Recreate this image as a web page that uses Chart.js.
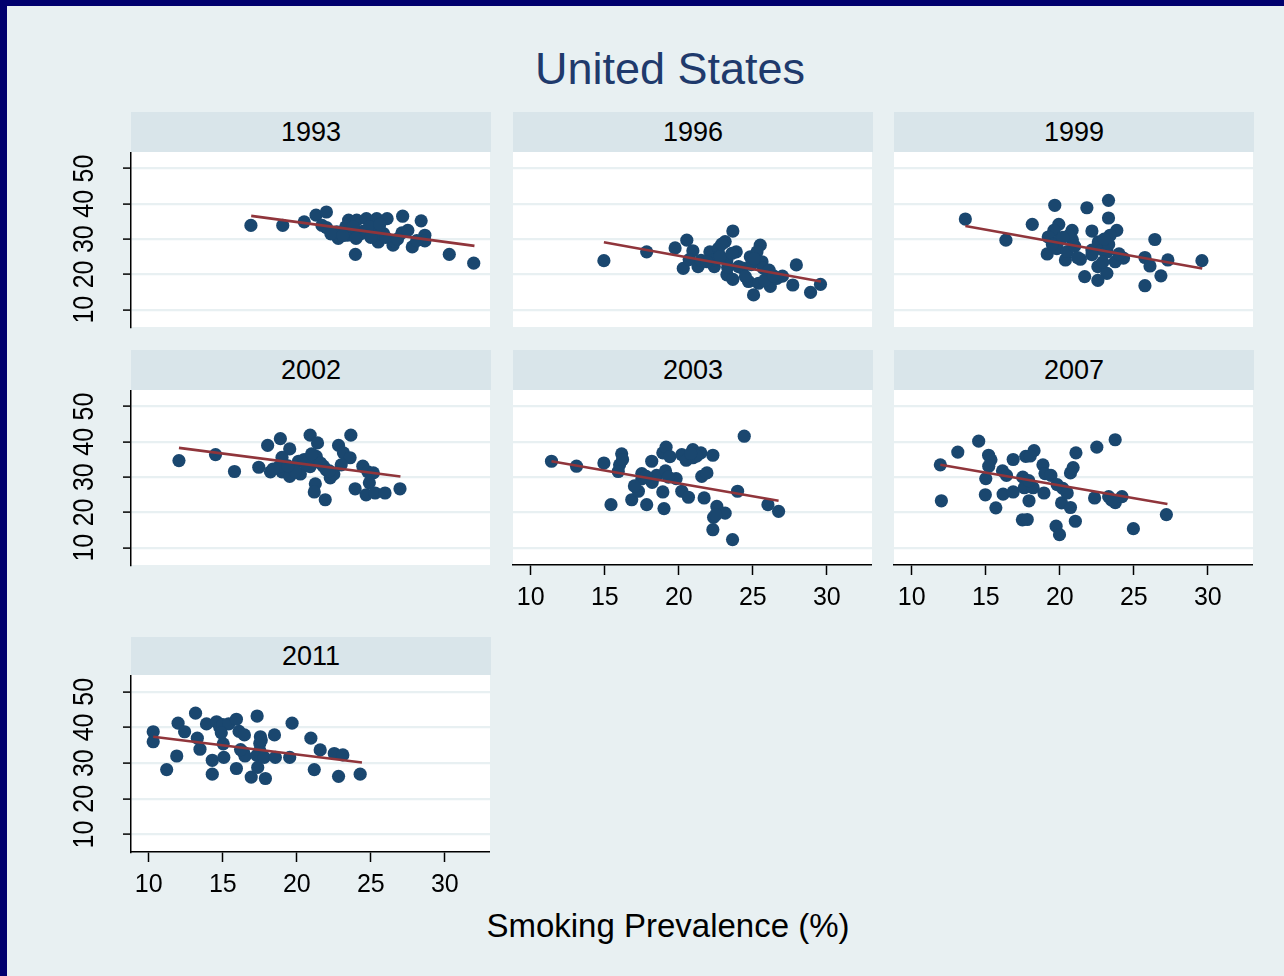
<!DOCTYPE html>
<html><head><meta charset="utf-8">
<script src="https://cdn.jsdelivr.net/npm/chart.js@4.4.0/dist/chart.umd.min.js"></script>
<style>
html,body{margin:0;padding:0;}
body{width:1284px;height:976px;position:relative;overflow:hidden;background:#e8f0f2;font-family:"Liberation Sans",Arial,sans-serif;}
#topbar{position:absolute;left:0;top:0;width:1284px;height:6px;background:#00006e;}
#leftbar{position:absolute;left:0;top:0;width:7px;height:976px;background:#00006e;}
.strip{position:absolute;background:#d9e5ea;color:#000;font-size:27px;display:flex;align-items:center;justify-content:center;}
canvas.panel{position:absolute;}
#title{position:absolute;left:370px;width:600px;top:46px;text-align:center;font-size:45px;line-height:1;color:#1f3a6c;}
#xtitle{position:absolute;left:368px;width:600px;top:909px;text-align:center;font-size:33px;line-height:1;color:#000;}
</style>
</head><body>
<div id="topbar"></div><div id="leftbar"></div>
<div id="title">United States</div>
<div id="xtitle">Smoking Prevalence (%)</div>
<script>
// ---- data ----
const years = ["1993","1996","1999","2002","2003","2007","2011"];
const xTicks = [10,15,20,25,30];
const yTicks = [10,20,30,40,50];

const pts1993 = [[16.9,33.9],[19.05,33.9],[20.5,34.9],[21.3,36.8],[22.0,37.7],[21.7,33.9],[22.0,33.3],[22.7,32.1],[22.8,30.2],[23.5,35.4],[24.05,35.4],[23.4,31.1],[23.5,32.3],[23.96,25.7],[24.7,35.8],[25.4,35.8],[26.1,35.8],[27.15,36.5],[28.4,35.2],[28.65,31.1],[28.65,29.5],[27.1,31.8],[25.85,31.6],[25.5,29.2],[26.5,28.3],[27.8,27.8],[26.6,29.4],[25.2,31.1],[24.5,32.3],[24.3,31.5],[30.3,25.7],[31.95,23.2],[24.9,33.5],[23.3,33.5],[23.8,33.4],[25.6,32.5],[26.0,30.5],[22.3,31.5],[23.1,31.0],[24.0,30.2],[25.0,30.5],[26.8,30.0],[28.1,29.6],[27.5,32.5],[25.6,34.2]];
const pts1996 = [[14.94,23.9],[17.83,26.4],[19.75,27.5],[20.54,29.7],[20.95,26.7],[20.3,21.7],[21.3,22.2],[22.1,26.4],[22.4,22.2],[22.68,27.4],[23.13,29.3],[23.65,32.3],[23.88,26.4],[23.25,24.1],[23.25,19.9],[23.65,18.6],[24.04,22.2],[24.83,25.0],[25.5,28.3],[25.28,26.4],[25.62,23.6],[24.71,18.0],[25.39,17.5],[25.05,14.2],[26.18,16.6],[25.8,18.4],[26.63,18.9],[27.7,17.0],[27.94,22.7],[28.9,14.9],[29.57,17.2],[20.7,24.2],[21.5,24.0],[22.3,24.0],[22.8,25.2],[23.3,22.0],[24.3,21.8],[24.9,22.8],[25.7,21.8],[26.1,21.2],[27.0,19.5],[21.9,23.6],[24.5,19.4],[22.9,28.6],[23.6,26.0],[25.1,24.5],[26.4,19.6]];
const pts1999 = [[13.62,35.7],[16.36,29.7],[18.14,34.2],[19.66,39.6],[21.83,38.9],[23.29,41.0],[23.29,36.0],[19.93,34.2],[19.6,32.5],[20.83,32.5],[22.17,32.3],[23.85,32.5],[23.4,31.1],[19.22,30.6],[20.0,29.7],[20.85,29.8],[19.15,25.8],[19.8,27.3],[20.38,24.1],[21.39,24.3],[22.17,26.9],[22.6,29.2],[22.9,27.0],[22.17,25.6],[22.57,22.2],[23.18,20.3],[22.57,18.3],[21.68,19.4],[23.2,26.4],[23.74,23.6],[24.3,24.6],[25.75,24.8],[26.09,22.4],[26.42,29.9],[27.3,24.1],[26.83,19.6],[25.75,16.8],[29.6,23.9],[20.6,31.0],[23.3,28.5],[20.5,26.5],[21.0,28.0],[19.5,28.5],[22.9,23.5],[24.0,25.8],[20.2,30.5],[23.0,30.0],[21.2,24.8]];
const pts2002 = [[12.04,34.7],[14.51,36.4],[15.79,31.6],[17.43,32.8],[18.03,39.0],[18.89,40.9],[19.52,38.0],[19.0,35.6],[18.22,31.5],[19.0,31.5],[19.52,30.2],[20.24,30.9],[20.12,34.5],[20.5,35.0],[20.9,41.9],[21.4,39.7],[21.31,35.9],[20.9,33.0],[21.8,33.1],[21.25,28.1],[21.18,25.8],[21.92,23.6],[22.26,29.8],[22.5,30.9],[22.82,39.0],[23.65,41.9],[23.15,36.9],[23.6,35.5],[23.0,33.5],[24.46,33.1],[24.8,31.5],[25.17,31.2],[24.9,28.4],[23.94,26.7],[24.68,25.0],[25.29,25.5],[25.96,25.5],[26.97,26.7],[19.9,31.5],[18.8,33.0],[21.6,34.0],[22.0,32.0],[19.4,33.2],[20.6,33.8],[22.2,31.8],[18.4,32.3],[21.0,36.6]];
const pts2003 = [[11.4,34.5],[13.09,33.1],[14.94,34.0],[16.14,36.6],[16.0,33.5],[15.91,31.6],[15.42,22.2],[16.82,23.6],[17.83,22.2],[17.27,26.0],[17.5,31.0],[17.5,29.5],[18.17,34.5],[18.2,28.5],[18.5,30.5],[18.92,36.9],[19.14,38.5],[19.4,35.8],[19.1,31.8],[18.92,25.8],[19.0,21.1],[19.82,29.6],[20.2,26.0],[20.65,24.3],[20.2,36.4],[20.5,34.8],[20.95,37.8],[20.95,35.5],[21.49,36.9],[22.3,36.2],[21.55,30.2],[21.9,31.2],[21.71,24.1],[22.57,21.7],[22.35,18.6],[23.13,19.8],[22.3,15.1],[23.63,12.3],[23.97,26.0],[24.42,41.6],[26.02,22.2],[26.74,20.3],[17.0,27.5],[19.3,30.0],[21.2,36.0],[22.5,19.3],[17.8,30.2],[16.2,35.0],[20.8,36.7]];
const pts2007 = [[11.93,33.5],[12.0,23.3],[13.11,37.1],[14.52,40.2],[15.19,36.2],[15.35,34.9],[15.2,33.1],[15.0,29.6],[14.97,25.0],[15.68,21.3],[16.13,31.8],[16.4,30.5],[16.17,25.2],[16.85,25.8],[16.85,35.0],[17.7,35.9],[18.26,37.5],[17.5,30.0],[17.6,27.0],[18.2,27.0],[17.92,23.3],[17.47,17.9],[17.8,18.0],[18.86,33.5],[19.0,31.0],[19.4,30.5],[18.93,25.5],[19.82,27.9],[20.2,26.8],[20.12,22.7],[20.72,21.4],[19.75,16.1],[19.98,13.7],[20.72,31.2],[20.9,32.7],[21.09,36.9],[21.05,17.5],[22.35,24.1],[22.5,38.5],[23.3,24.5],[23.74,40.6],[23.75,22.8],[24.2,24.5],[24.97,15.4],[27.2,19.4],[17.9,29.0],[18.0,36.0],[20.5,25.5],[23.5,23.5]];
const pts2011 = [[10.3,38.8],[10.3,36.0],[11.21,28.2],[11.89,32.0],[11.98,41.2],[12.42,38.8],[13.16,44.0],[13.28,37.0],[13.46,33.9],[13.9,41.0],[14.29,30.8],[14.29,26.9],[14.58,41.6],[14.8,40.0],[15.0,40.8],[15.03,35.4],[15.07,31.6],[15.4,41.0],[15.92,42.3],[15.92,28.5],[16.1,38.9],[16.46,37.9],[16.4,33.0],[16.5,32.0],[16.92,26.1],[17.32,43.2],[17.54,37.4],[17.5,35.5],[17.5,33.5],[17.3,32.2],[17.36,28.8],[17.8,31.6],[17.88,25.7],[18.49,37.9],[18.55,31.6],[19.52,31.6],[19.68,41.2],[20.95,37.0],[21.18,28.2],[21.58,33.7],[22.53,32.7],[23.11,32.3],[22.82,26.3],[24.28,26.9],[16.2,33.8],[14.9,38.5],[17.6,36.5]];

// fitted-line endpoints
const fit1993 = [[16.92,36.6],[32.0,28.1]];
const fit1996 = [[14.94,29.1],[29.6,18.0]];
const fit1999 = [[13.62,33.7],[29.62,21.7]];
const fit2002 = [[12.04,38.3],[27.0,30.2]];
const fit2003 = [[11.4,34.5],[26.74,23.3]];
const fit2007 = [[11.93,33.5],[27.27,22.4]];
const fit2011 = [[10.3,37.4],[24.4,30.2]];

const allPts = [pts1993,pts1996,pts1999,pts2002,pts2003,pts2007,pts2011];
const allFits = [fit1993,fit1996,fit1999,fit2002,fit2003,fit2007,fit2011];

// ---- layout ----
const FONT = '"Liberation Sans", Arial, sans-serif';
const colLeft = [131, 513, 894];
const plotW = 359;
const rowTop = [152, 390, 675];
const rowH = [175, 175, 177];
const stripH = [40, 40, 38];
const AXW = 80, AXH = 60;
// panel grid positions: [col,row,showY,showX]
const layout = [[0,0,true,false],[1,0,false,false],[2,0,false,false],[0,1,true,false],[1,1,false,true],[2,1,false,true],[0,2,true,true]];

const bgPlugin = {
  id:'bgwhite',
  beforeDraw(chart){
    const a = chart.chartArea, c = chart.ctx;
    c.save(); c.fillStyle = '#ffffff'; c.fillRect(a.left, a.top, a.right-a.left, a.bottom-a.top); c.restore();
  }
};
const yLabelPlugin = {
  id:'ylabels',
  afterDraw(chart, args, opts){
    if(!opts.show) return;
    const s = chart.scales.y, c = chart.ctx;
    c.save();
    c.fillStyle = '#000';
    c.font = '25px ' + FONT;
    c.textAlign = 'center';
    c.textBaseline = 'alphabetic';
    yTicks.forEach(v=>{
      const py = s.getPixelForValue(v);
      c.save();
      c.translate(chart.chartArea.left - 38, py);
      c.rotate(-Math.PI/2);
      c.scale(1, 1.15);
      c.fillText(String(v), 0, 0);
      c.restore();
    });
    c.restore();
  }
};

years.forEach((yr, i)=>{
  const [col,row,showY,showX] = layout[i];
  const left = colLeft[col], top = rowTop[row], h = rowH[row];
  const strip = document.createElement('div');
  strip.className = 'strip';
  strip.style.left = left + 'px';
  strip.style.top = (top - stripH[row]) + 'px';
  strip.style.width = (plotW + 1) + 'px';
  strip.style.height = stripH[row] + 'px';
  strip.textContent = yr;
  document.body.appendChild(strip);

  const cv = document.createElement('canvas');
  cv.className = 'panel';
  cv.width = plotW + AXW; cv.height = h + AXH;
  cv.style.left = (left - AXW) + 'px';
  cv.style.top = top + 'px';
  cv.style.width = cv.width + 'px'; cv.style.height = cv.height + 'px';
  document.body.appendChild(cv);

  const pts = allPts[i].map(p=>({x:p[0], y:p[1]}));
  const fit = allFits[i].map(p=>({x:p[0], y:p[1]}));

  new Chart(cv, {
    type:'scatter',
    data:{datasets:[
      {type:'line', data:fit, borderColor:'#90353b', borderWidth:2.6, pointRadius:0, fill:false, tension:0, order:0},
      {data:pts, backgroundColor:'#1a476f', borderColor:'#1a476f', borderWidth:0, pointRadius:6.6, pointHoverRadius:6.6, order:1}
    ]},
    options:{
      responsive:false, animation:false, devicePixelRatio:1,
      layout:{padding:0, autoPadding:false},
      plugins:{legend:{display:false}, tooltip:{enabled:false}, ylabels:{show:showY}},
      scales:{
        x:{type:'linear', min:8.8, max:33.05,
          afterFit:s=>{s.height=AXH;},
          afterBuildTicks:s=>{s.ticks = xTicks.map(v=>({value:v}));},
          grid:{display:showX, drawOnChartArea:false, drawTicks:true, tickLength:10, tickColor:'#000', tickWidth:1.5},
          border:{display:showX, color:'#000', width:1.5},
          ticks:{display:showX, color:'#000', font:{size:25, family:FONT}, padding:8, maxRotation:0, minRotation:0, autoSkip:false}
        },
        y:{type:'linear', min:5.1, max:54.7,
          afterFit:s=>{s.width=AXW;},
          afterBuildTicks:s=>{s.ticks = yTicks.map(v=>({value:v}));},
          grid:{color:'#e8f0f2', lineWidth:2.2, drawTicks:showY, tickLength:8, tickColor:'#000', tickWidth:1.5},
          border:{display:showY, color:'#000', width:1.5},
          ticks:{display:false}
        }
      }
    },
    plugins:[bgPlugin, yLabelPlugin]
  });
});
</script>
</body></html>
